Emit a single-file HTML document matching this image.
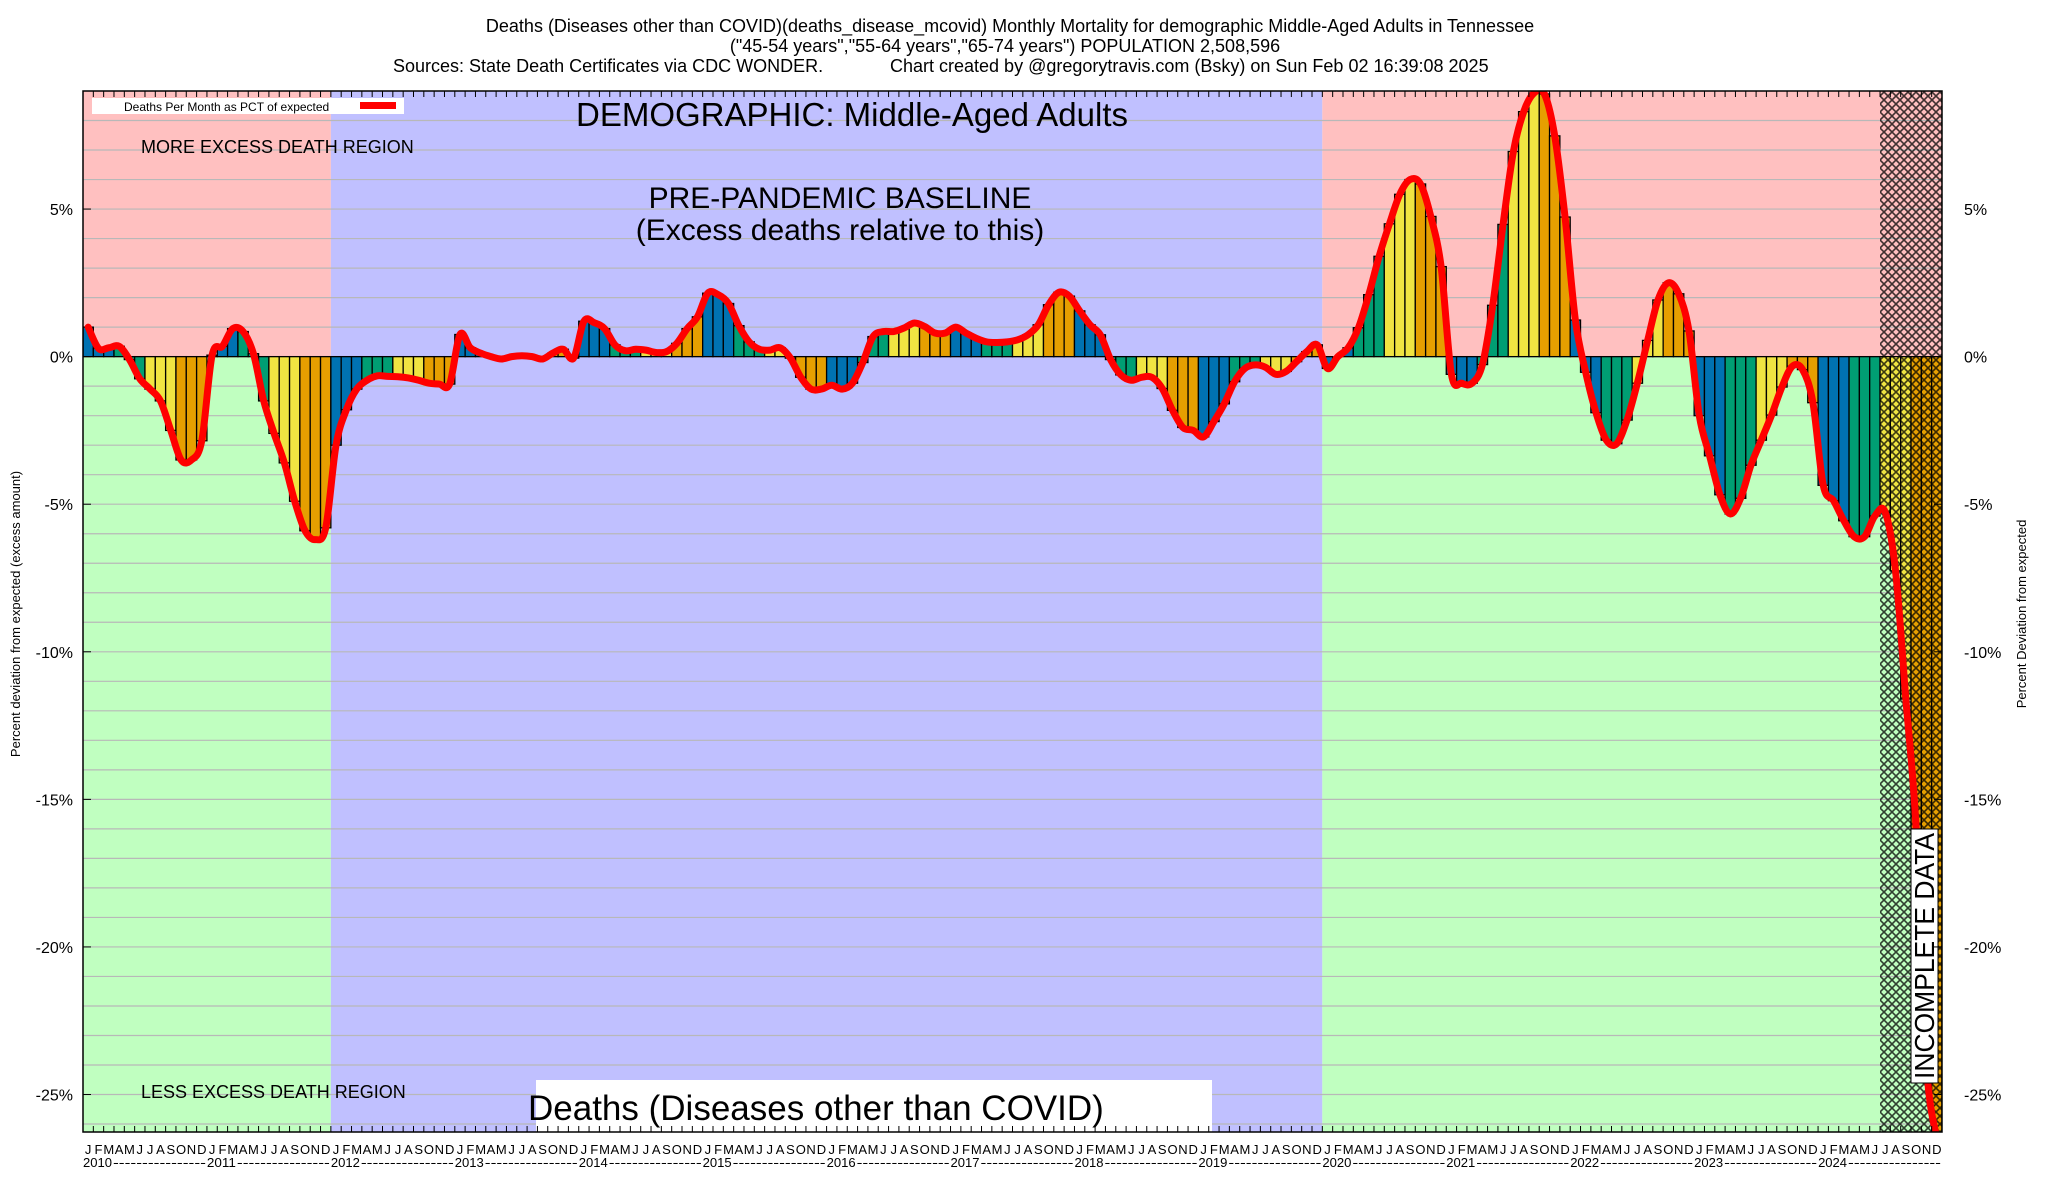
<!DOCTYPE html>
<html><head><meta charset="utf-8"><style>
html,body{margin:0;padding:0;background:#fff;}
svg{display:block;font-family:"Liberation Sans",Arial,sans-serif;}
</style></head><body>
<svg id="chart" width="2048" height="1200" viewBox="0 0 2048 1200" xmlns="http://www.w3.org/2000/svg">
<defs>
<pattern id="hatch" width="8" height="8" patternUnits="userSpaceOnUse">
<path d="M0,0 L8,8 M8,0 L0,8" stroke="#000" stroke-width="1.6" stroke-opacity="0.75"/>
</pattern>
<clipPath id="plotclip"><rect x="83" y="91" width="1859" height="1041"/></clipPath>
</defs>
<g font-size="18" fill="#000">
<text x="1010" y="32" text-anchor="middle">Deaths (Diseases other than COVID)(deaths_disease_mcovid) Monthly Mortality for demographic Middle-Aged Adults in Tennessee</text>
<text x="1005" y="52" text-anchor="middle">("45-54 years","55-64 years","65-74 years") POPULATION 2,508,596</text>
<text x="393" y="72">Sources: State Death Certificates via CDC WONDER.</text>
<text x="890" y="72">Chart created by @gregorytravis.com (Bsky) on Sun Feb 02 16:39:08 2025</text>
</g>
<g id="regions"></g>
<g id="grid"></g>
<g id="bars" clip-path="url(#plotclip)"></g>
<rect x="1880" y="91" width="62" height="1041" fill="url(#hatch)"/>
<g id="line" clip-path="url(#plotclip)"></g>
<g>
<rect x="92" y="98" width="312" height="16" fill="#fff"/>
<text x="124" y="111" font-size="12">Deaths Per Month as PCT of expected</text>
<rect x="360" y="102" width="36" height="7" fill="#ff0000"/>
<text x="141" y="153" font-size="18">MORE EXCESS DEATH REGION</text>
<text x="141" y="1098" font-size="18">LESS EXCESS DEATH REGION</text>
<text x="852" y="126" font-size="33" text-anchor="middle">DEMOGRAPHIC: Middle-Aged Adults</text>
<text x="840" y="208" font-size="30" text-anchor="middle">PRE-PANDEMIC BASELINE</text>
<text x="840" y="240" font-size="30" text-anchor="middle">(Excess deaths relative to this)</text>
<rect x="536" y="1080" width="676" height="52" fill="#fff"/>
<text x="528" y="1120" font-size="35">Deaths (Diseases other than COVID)</text>
<rect x="1911" y="829" width="27" height="254" fill="#fff" stroke="#000" stroke-width="1"/>
<text x="0" y="0" font-size="28" text-anchor="middle" textLength="246" lengthAdjust="spacingAndGlyphs" transform="translate(1934,956) rotate(-90)">INCOMPLETE DATA</text>
</g>
<g id="axes"></g>
<text font-size="13" text-anchor="middle" transform="translate(20,614) rotate(-90)">Percent deviation from expected (excess amount)</text>
<text font-size="13" text-anchor="middle" transform="translate(2026,614) rotate(-90)">Percent Deviation from expected</text>
</svg>
<script>
const years = [2010,2011,2012,2013,2014,2015,2016,2017,2018,2019,2020,2021,2022,2023,2024];
const monthLetters = ["J","F","M","A","M","J","J","A","S","O","N","D"];
const yTicks = [5,0,-5,-10,-15,-20,-25];
const v2010 = [1.0,0.28,0.3,0.35,-0.1,-0.75,-1.1,-1.5,-2.5,-3.5,-3.5,-2.85];
const v2011 = [0.05,0.35,0.95,0.85,0.1,-1.5,-2.6,-3.6,-4.9,-5.9,-6.2,-5.8];
const v2012 = [-3.0,-1.8,-1.1,-0.8,-0.65,-0.67,-0.68,-0.72,-0.8,-0.9,-0.93,-0.93];
const v2013 = [0.75,0.3,0.12,0,-0.08,0,0.03,0,-0.08,0.12,0.25,-0.05];
const v2014 = [1.2,1.15,0.95,0.4,0.2,0.25,0.22,0.14,0.17,0.45,0.95,1.35];
const v2015 = [2.15,2.1,1.8,1.05,0.5,0.25,0.22,0.3,-0.05,-0.7,-1.1,-1.1];
const v2016 = [-0.97,-1.1,-0.9,-0.2,0.68,0.85,0.85,0.97,1.14,1.02,0.8,0.8];
const v2017 = [1.0,0.8,0.62,0.5,0.48,0.5,0.57,0.74,1.08,1.76,2.18,2.05];
const v2018 = [1.55,1.08,0.74,-0.1,-0.62,-0.8,-0.7,-0.7,-1.08,-1.82,-2.4,-2.5];
const v2019 = [-2.72,-2.2,-1.6,-0.85,-0.4,-0.28,-0.36,-0.6,-0.5,-0.17,0.17,0.4];
const v2020 = [-0.4,0,0.3,0.98,2.1,3.4,4.5,5.5,6.0,5.85,4.75,3.05];
const v2021 = [-0.6,-0.9,-0.9,-0.27,1.74,4.48,6.95,8.3,8.93,8.9,7.48,4.73];
const v2022 = [1.24,-0.53,-1.9,-2.83,-2.95,-2.15,-0.9,0.55,1.92,2.5,2.13,0.87];
const v2023 = [-2.0,-3.36,-4.68,-5.33,-4.8,-3.68,-2.83,-1.98,-1.03,-0.33,-0.44,-1.56];
const v2024 = [-4.36,-4.88,-5.56,-6.1,-6.1,-5.4,-5.27,-7.26,-11.6,-16,-24,-26.5];
const values = [].concat(v2010,v2011,v2012,v2013,v2014,v2015,v2016,v2017,v2018,v2019,v2020,v2021,v2022,v2023,v2024);

const NS = "http://www.w3.org/2000/svg";
const PL = 83, PR = 1942, PT = 91, PB = 1132, YMAX = 9, YMIN = -26.27;
const N = values.length;
const step = (PR - PL) / N;
function xs(i){ return PL + i * step; }
function ys(v){ return PT + (YMAX - v) / (YMAX - YMIN) * (PB - PT); }
function mk(tag, attrs, parent){ const e = document.createElementNS(NS, tag); for (const k in attrs) e.setAttribute(k, attrs[k]); parent.appendChild(e); return e; }

// regions
const reg = document.getElementById("regions");
const y0 = ys(0);
const x2012 = xs(24), x2020 = xs(120);
let r;
r = mk("rect", {x:PL, y:PT, width:x2012-PL, height:y0-PT, fill:"#ffc0c0"}, reg);


r = mk("rect", {x:PL, y:y0, width:x2012-PL, height:PB-y0, fill:"#c0ffc0"}, reg);


r = mk("rect", {x:x2012, y:PT, width:x2020-x2012, height:PB-PT, fill:"#c0c0ff"}, reg);


r = mk("rect", {x:x2020, y:PT, width:PR-x2020, height:y0-PT, fill:"#ffc0c0"}, reg);


r = mk("rect", {x:x2020, y:y0, width:PR-x2020, height:PB-y0, fill:"#c0ffc0"}, reg);



// grid
const grid = document.getElementById("grid");
for (let v = 8; v >= -26; v--) {
  const g = mk("line", {x1:PL, x2:PR, y1:ys(v), y2:ys(v), stroke:"#b8b8b8", "stroke-width":1.2}, grid);
  
  
}

// bars
const colors = ["#0072b2","#009e73","#f0e442","#e69f00"];
const bars = document.getElementById("bars");
values.forEach((v, i) => {
  const top = Math.min(ys(v), y0), h = Math.abs(ys(v) - y0);
  const b = mk("rect", {x:xs(i), y:top, width:step, height:h, fill:colors[Math.floor((i % 12) / 3)], stroke:"#000", "stroke-width":1.3}, bars);
  
  
});

// smooth line (Catmull-Rom)
const pts = values.map((v, i) => [xs(i) + step/2, ys(v)]);
let d = "M" + pts[0][0] + "," + pts[0][1];
for (let i = 0; i < pts.length - 1; i++) {
  const p0 = pts[Math.max(0,i-1)], p1 = pts[i], p2 = pts[i+1], p3 = pts[Math.min(pts.length-1,i+2)];
  const c1 = [p1[0] + (p2[0]-p0[0])/6, p1[1] + (p2[1]-p0[1])/6];
  const c2 = [p2[0] - (p3[0]-p1[0])/6, p2[1] - (p3[1]-p1[1])/6];
  d += " C" + c1[0] + "," + c1[1] + " " + c2[0] + "," + c2[1] + " " + p2[0] + "," + p2[1];
}
const lp = mk("path", {d:d, fill:"none", stroke:"#ff0000", "stroke-width":7, "stroke-linejoin":"round", "stroke-linecap":"round"}, document.getElementById("line"));



// axes
const ax = document.getElementById("axes");
const frame = mk("rect", {x:PL, y:PT, width:PR-PL, height:PB-PT, fill:"none", stroke:"#000", "stroke-width":1.5}, ax);


for (let i = 1; i < N; i++) {
  const t1 = mk("line", {x1:xs(i), x2:xs(i), y1:PT, y2:PT+6, stroke:"#000", "stroke-width":1}, ax);
  
  
  const t2 = mk("line", {x1:xs(i), x2:xs(i), y1:PB, y2:PB-6, stroke:"#000", "stroke-width":1}, ax);
  
  
}
yTicks.forEach(v => {
  const y = ys(v);
  const tl = mk("line", {x1:PL, x2:PL+8, y1:y, y2:y, stroke:"#000", "stroke-width":1}, ax);
  
  
  const tr = mk("line", {x1:PR-8, x2:PR, y1:y, y2:y, stroke:"#000", "stroke-width":1}, ax);
  
  
  const l = mk("text", {x:73, y:y+6, "font-size":16, "text-anchor":"end"}, ax);
  l.textContent = v + "%";
  
  
  const rr = mk("text", {x:1964, y:y+6, "font-size":16}, ax);
  rr.textContent = v + "%";
  
  
});
for (let i = 0; i < N; i++) {
  const m = mk("text", {x:xs(i)+step/2, y:1154, "font-size":13, "text-anchor":"middle"}, ax);
  m.textContent = monthLetters[i % 12];
  
  
}
years.forEach((yr, k) => {
  const x = xs(k*12);
  const t = mk("text", {x:x, y:1167, "font-size":13, textLength:29, lengthAdjust:"spacingAndGlyphs"}, ax);
  t.textContent = yr;
  
  
  const ds = mk("text", {x:x+30, y:1167, "font-size":13, textLength:12*step-31, lengthAdjust:"spacingAndGlyphs"}, ax);
  ds.textContent = "----------------";
  
  
});
</script>
</body></html>
